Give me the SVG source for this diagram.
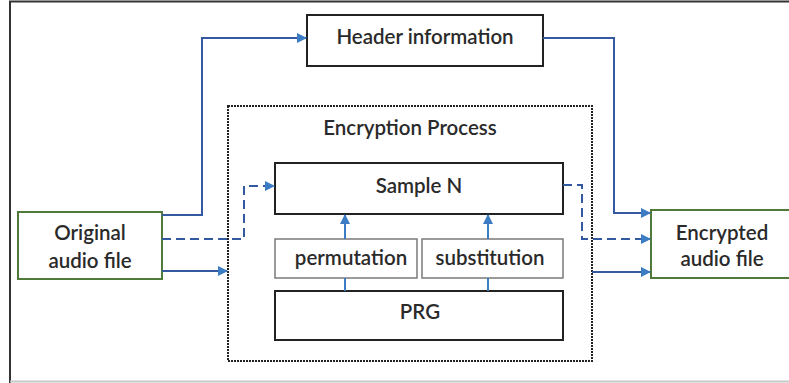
<svg xmlns="http://www.w3.org/2000/svg" width="789" height="383" viewBox="0 0 789 383">
  <defs>
    <marker id="arrow" markerWidth="10" markerHeight="10" refX="9" refY="5" orient="auto" markerUnits="userSpaceOnUse">
      <path d="M0,0 L10,5 L0,10 Z" fill="#3c7cc3"/>
    </marker>
  </defs>
  <style>
    .box { fill: #fff; stroke: #222; stroke-width: 2; }
    .sub { fill: #fff; stroke: #7a7a7a; stroke-width: 1.5; }
    .file { fill: #fff; stroke: #4f7a3c; stroke-width: 2; }
    .group { fill: none; stroke: #222; stroke-width: 2; stroke-dasharray: 2 1; }
    text { font-family: Lato, "Open Sans", "Liberation Sans", sans-serif; font-size: 20.5px; font-weight: 600; fill: #2a2a2a; text-anchor: middle; }
    .flow { fill: none; stroke: #3559a0; stroke-width: 2; }
    .dash { stroke-dasharray: 9 5; }
    .link { fill: none; stroke: #3c7cc3; stroke-width: 2; }
  </style>

  <!-- frame -->
  <rect x="0" y="0" width="789" height="383" fill="#fff"/>
  <path d="M10,383 V1.5 H789" fill="none" stroke="#333" stroke-width="2"/>
  <line x1="10" y1="381.5" x2="789" y2="381.5" stroke="#c8c8c8" stroke-width="2"/>

  <g id="encryption-process">
    <rect class="group" x="228" y="106" width="364" height="255"/>
    <text x="410" y="135">Encryption Process</text>
  </g>

  <g id="header-information">
    <rect class="box" x="307" y="15" width="236" height="51"/>
    <text x="425" y="44">Header information</text>
  </g>

  <g id="sample-n">
    <rect class="box" x="275" y="163" width="288" height="51"/>
    <text x="419" y="193">Sample N</text>
  </g>

  <g id="permutation">
    <rect class="sub" x="275" y="239" width="142" height="39"/>
    <text x="351" y="265">permutation</text>
  </g>

  <g id="substitution">
    <rect class="sub" x="422" y="239" width="141" height="39"/>
    <text x="490" y="265">substitution</text>
  </g>

  <g id="prg">
    <rect class="box" x="275" y="291" width="288" height="49"/>
    <text x="420" y="319">PRG</text>
  </g>

  <g id="original-audio-file">
    <rect class="file" x="18" y="212" width="144" height="67"/>
    <text x="90" y="240">Original</text>
    <text x="90" y="268">audio file</text>
  </g>

  <g id="encrypted-audio-file">
    <rect class="file" x="651" y="210" width="145" height="68"/>
    <text x="722" y="240">Encrypted</text>
    <text x="722" y="266">audio file</text>
  </g>

  <g id="connectors">
    <!-- original file to header -->
    <path class="flow" d="M162,215 H202 V38 H306" marker-end="url(#arrow)"/>
    <!-- original file samples to Sample N -->
    <path class="flow dash" d="M162,239 H244 V186 H274" marker-end="url(#arrow)"/>
    <!-- original file into encryption process -->
    <path class="flow" d="M162,271 H227" marker-end="url(#arrow)"/>
    <!-- header to encrypted file -->
    <path class="flow" d="M543,38 H614 V213 H650" marker-end="url(#arrow)"/>
    <!-- Sample N to encrypted file -->
    <path class="flow dash" d="M563,185 H582 V239 H650" marker-end="url(#arrow)"/>
    <!-- encryption process to encrypted file -->
    <path class="flow" d="M592,272 H650" marker-end="url(#arrow)"/>
    <!-- PRG feeds permutation and substitution -->
    <line class="link" x1="345" y1="291" x2="345" y2="278"/>
    <line class="link" x1="488" y1="291" x2="488" y2="278"/>
    <!-- permutation and substitution into Sample N -->
    <path class="link" d="M345,239 V215" marker-end="url(#arrow)"/>
    <path class="link" d="M488,239 V215" marker-end="url(#arrow)"/>
  </g>
</svg>
